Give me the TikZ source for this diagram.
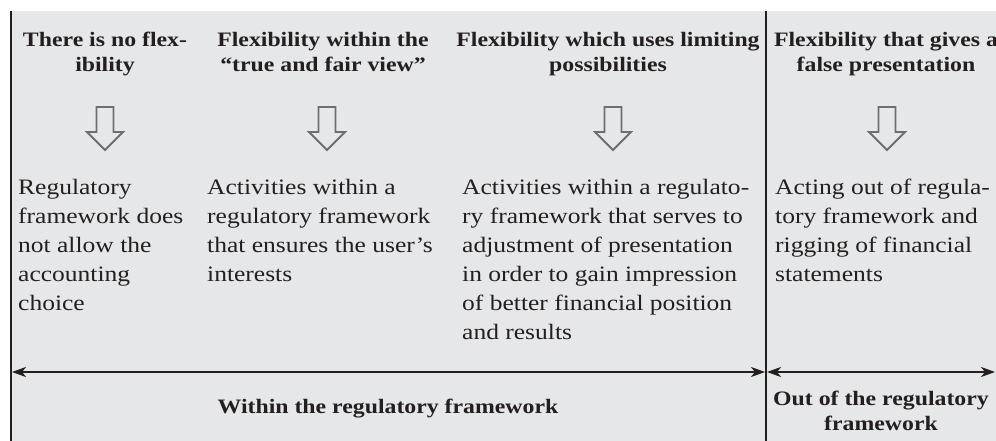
\documentclass[tikz,border=0pt]{standalone}
\usepackage{fontspec}
\setmainfont[FakeStretch=1.16]{Liberation Serif}
\usetikzlibrary{arrows.meta}
\definecolor{bg}{HTML}{E6E7E8}
\definecolor{ink}{HTML}{231F20}
\definecolor{arrowgray}{HTML}{6D6E71}
\tikzset{
  head/.style={font=\fontsize{20.5}{25}\selectfont\bfseries, align=center, inner sep=0pt, text=ink, anchor=north},
  body/.style={font=\fontsize{22}{29}\selectfont, align=left, inner sep=0pt, text=ink, anchor=north west},
  rule/.style={draw=ink, line width=2pt},
  span/.style={draw=ink, line width=1.8pt, {Stealth[length=14pt,width=10pt,inset=4pt]}-{Stealth[length=14pt,width=10pt,inset=4pt]}},
  downarrow/.pic={\draw[arrowgray, line width=1.8pt, line join=miter]
     (-8.5,0) -- (8.5,0) -- (8.5,25) -- (18,25) -- (0,43) -- (-18,25) -- (-8.5,25) -- cycle;}
}
\begin{document}
\begin{tikzpicture}[x=1pt,y=-1pt]
\useasboundingbox (0,0) rectangle (996,441);
\fill[bg] (10,11) rectangle (996,441);
% frame lines
\coordinate (lt) at (11,11);
\coordinate (lb) at (11,441);
\coordinate (dt) at (766,11);
\coordinate (db) at (766,441);
\draw[rule] (lt) -- (lb);
\draw[rule] (dt) -- (db);
% headings
\node[head] (h1) at (105,32) {There is no flex-\\ibility};
\node[head] (h2) at (323,32) {Flexibility within the\\“true and fair view”};
\node[head] (h3) at (608,32) {Flexibility which uses limiting\\possibilities};
\node[head] (h4) at (886,32) {Flexibility that gives a\\false presentation};
% down arrows
\pic at (105,107) {downarrow};
\pic at (327,107) {downarrow};
\pic at (613,107) {downarrow};
\pic at (887,107) {downarrow};
% body texts
\node[body] (b1) at (18,179) {Regulatory\\framework does\\not allow the\\accounting\\choice};
\node[body] (b2) at (207,179) {Activities within a\\regulatory framework\\that ensures the user’s\\interests};
\node[body] (b3) at (462,179) {Activities within a regulato-\\ry framework that serves to\\adjustment of presentation\\in order to gain impression\\of better financial position\\and results};
\node[body] (b4) at (775,179) {Acting out of regula-\\tory framework and\\rigging of financial\\statements};
% span arrows
\coordinate (sl) at (12,372);
\coordinate (sm1) at (765,372);
\coordinate (sm2) at (767,372);
\coordinate (sr) at (995,372);
\draw[span] (sl) -- (sm1);
\draw[span] (sm2) -- (sr);
% bottom labels
\node[head, anchor=base] (w1) at (388,413) {Within the regulatory framework};
\node[head] (w2) at (881,391) {Out of the regulatory\\framework};
\end{tikzpicture}
\end{document}
